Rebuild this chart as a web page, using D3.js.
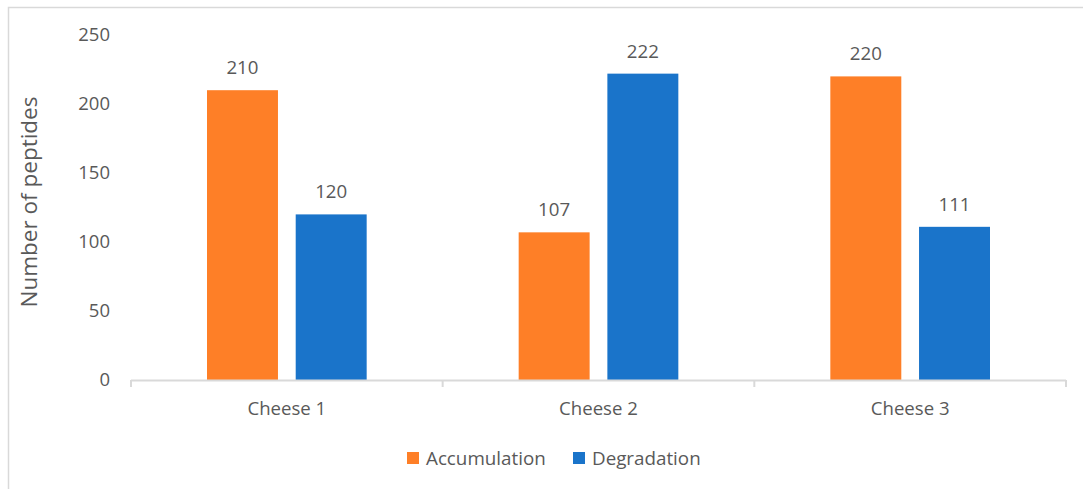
<!DOCTYPE html>
<html>
<head>
<meta charset="utf-8">
<script src="https://cdn.jsdelivr.net/npm/d3@7"></script>
<style>
  html, body { margin: 0; padding: 0; background: #fff; }
  svg { display: block; }
  text { font-family: "Open Sans", sans-serif; fill: #595959; }
</style>
</head>
<body>
<svg id="chart" width="1083" height="489"></svg>
<script>
// Peptide counts per cheese
const categories = ["Cheese 1", "Cheese 2", "Cheese 3"];
const series = ["Accumulation", "Degradation"];
const accumulation = [210, 107, 220];
const degradation = [120, 222, 111];
const yTicks = [0, 50, 100, 150, 200, 250];
const colors = ["#FE7F27", "#1A74CA"];

const values = [accumulation, degradation];
const W = 1083, H = 489;
const svg = d3.select("#chart");

// chart frame (left & top edges visible)
svg.append("path")
  .attr("d", `M8.5,${H} V7.5 H${W}`)
  .attr("fill", "none")
  .attr("stroke", "#d9d9d9")
  .attr("stroke-width", 1.5);

const plot = { left: 131, right: 1066, top: 35, bottom: 380 };

const x0 = d3.scaleBand()
  .domain(categories)
  .range([plot.left, plot.right])
  .padding(0);

const outer = 76;
const x1 = d3.scaleBand()
  .domain(series)
  .range([outer, x0.bandwidth() - outer])
  .paddingInner(0.2)
  .paddingOuter(0);

const y = d3.scaleLinear()
  .domain([0, 250])
  .range([plot.bottom, plot.top]);

// y axis labels
const yAxis = d3.axisLeft(y).tickValues(yTicks).tickSize(0).tickPadding(0);
const yg = svg.append("g")
  .attr("transform", `translate(110,0)`)
  .call(yAxis);
yg.select(".domain").remove();
yg.selectAll("text")
  .attr("font-size", "18.5px")
  .attr("font-family", "'Open Sans', sans-serif")
  .attr("fill", "#595959");

// y axis title
svg.append("text")
  .attr("transform", `translate(37,202) rotate(-90)`)
  .attr("text-anchor", "middle")
  .attr("font-size", "22.5px")
  .text("Number of peptides");

// bars
const groups = svg.append("g").selectAll("g")
  .data(categories)
  .join("g")
  .attr("transform", d => `translate(${x0(d)},0)`);

groups.selectAll("rect")
  .data((c, i) => series.map((s, k) => ({ s, k, v: values[k][i] })))
  .join("rect")
  .attr("x", d => x1(d.s))
  .attr("width", x1.bandwidth())
  .attr("y", d => y(d.v))
  .attr("height", d => y(0) - y(d.v))
  .attr("fill", d => colors[d.k]);

// value labels
groups.selectAll("text.val")
  .data((c, i) => series.map((s, k) => ({ s, k, v: values[k][i] })))
  .join("text")
  .attr("class", "val")
  .attr("x", d => x1(d.s) + x1.bandwidth() / 2)
  .attr("y", d => y(d.v) - 16)
  .attr("text-anchor", "middle")
  .attr("font-size", "18.7px")
  .text(d => d.v);

// x axis with category boundary ticks
const xg = svg.append("g");
xg.append("line")
  .attr("x1", plot.left).attr("x2", plot.right)
  .attr("y1", plot.bottom + 0.5).attr("y2", plot.bottom + 0.5)
  .attr("stroke", "#d9d9d9").attr("stroke-width", 2);
const bounds = categories.map(c => x0(c)).concat([x0(categories[categories.length - 1]) + x0.bandwidth()]);
xg.selectAll("line.tick")
  .data(bounds)
  .join("line")
  .attr("class", "tick")
  .attr("x1", d => d).attr("x2", d => d)
  .attr("y1", plot.bottom).attr("y2", plot.bottom + 7)
  .attr("stroke", "#d9d9d9").attr("stroke-width", 2);
xg.selectAll("text")
  .data(categories)
  .join("text")
  .attr("x", d => x0(d) + x0.bandwidth() / 2)
  .attr("y", 415)
  .attr("text-anchor", "middle")
  .attr("font-size", "18.6px")
  .text(d => d);

// legend
const legendItems = [{ s: series[0], x: 407 }, { s: series[1], x: 573 }];
const lg = svg.append("g").selectAll("g")
  .data(legendItems)
  .join("g")
  .attr("transform", d => `translate(${d.x},452)`);
lg.append("rect")
  .attr("width", 12).attr("height", 12)
  .attr("fill", (d, i) => colors[i]);
lg.append("text")
  .attr("x", 19).attr("y", 12.5)
  .attr("font-size", "18.8px")
  .text(d => d.s);
</script>
</body>
</html>
